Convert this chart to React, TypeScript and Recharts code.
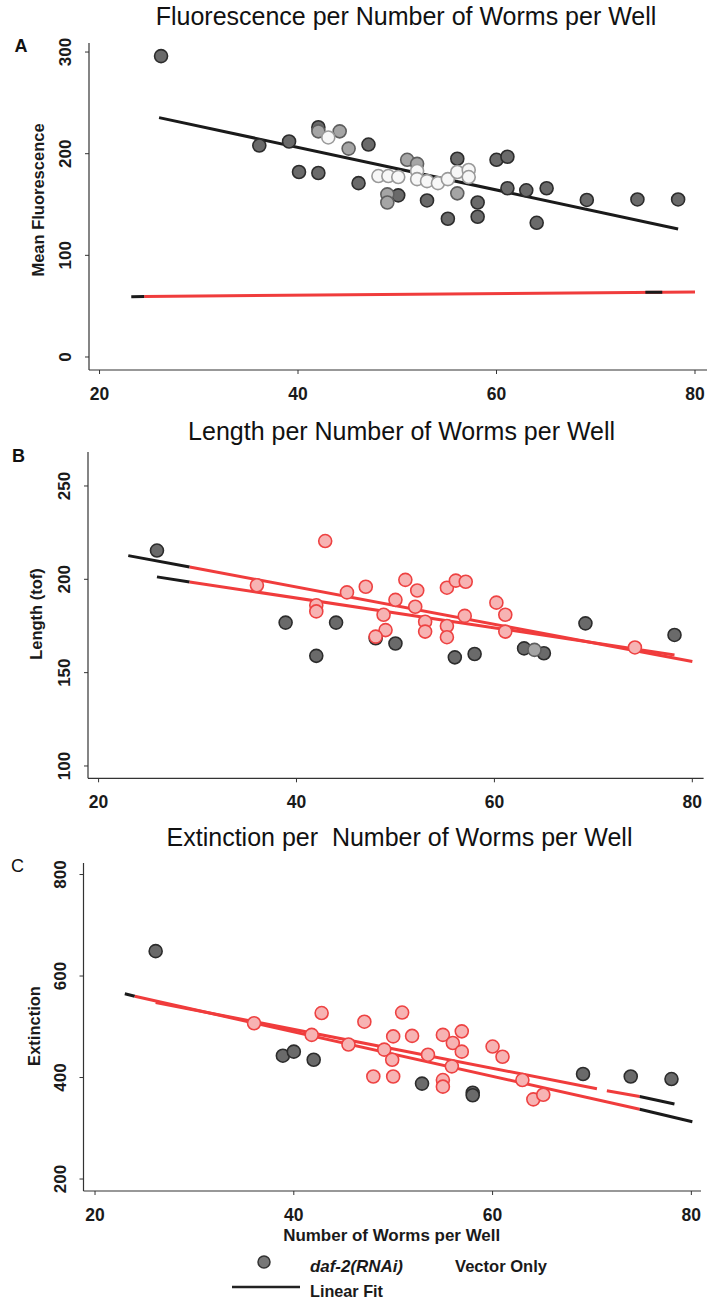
import React from 'react';
import { ComposedChart, Scatter, Line, XAxis, YAxis } from 'recharts';

// ---- shared ----
const FONT = "'Liberation Sans', Arial, Helvetica, sans-serif";
const INK = '#1a1a1a';
const RED = '#f03c3c';
const xTicks = [20, 40, 60, 80];

type Pt = { x: number; y: number };
const pts = (rows: number[][]): Pt[] => rows.map(([x, y]) => ({ x, y }));

// ---- A: mean fluorescence ----
const fluorTicks = [0, 100, 200, 300];
const fluorDark = pts([
  [26.2, 296], [36.1, 208], [39.1, 212], [40.1, 182], [42.05, 226], [42.05, 181],
  [46.1, 171], [47.1, 209], [50.1, 159], [53.0, 154], [55.1, 136], [56.05, 195],
  [58.1, 152], [58.1, 138], [60.0, 194], [61.1, 197], [61.1, 166], [63.0, 164],
  [64.05, 132], [65.05, 166], [69.1, 154.5], [74.2, 155], [78.3, 155],
]);
const fluorMid = pts([
  [42.05, 222], [44.2, 222], [45.1, 205], [49.0, 160], [49.0, 152], [51.0, 194],
  [52.0, 190], [56.05, 161],
]);
const fluorOpen = pts([
  [43.05, 216], [48.1, 178], [49.1, 178], [50.1, 177], [52.0, 183], [52.0, 175],
  [53.0, 173], [54.1, 171], [55.1, 175], [56.05, 182], [57.2, 184], [57.2, 177],
]);
const fluorFitDaf = pts([[26, 235.5], [78.3, 126]]);
const fluorFitVec = pts([[24.5, 59.5], [80, 64]]);
const fluorFitStubA = pts([[23.2, 59.3], [24.5, 59.5]]);
const fluorFitStubB = pts([[75, 63.6], [76.7, 63.7]]);

// ---- B: length (tof) ----
const lenTicks = [100, 150, 200, 250];
const lenDark = pts([
  [25.9, 215.4], [38.9, 176.8], [42.0, 159], [44.0, 176.8], [48.0, 168.4], [50.0, 165.6],
  [56.0, 158.2], [58.0, 160], [63.0, 163], [65.0, 160.4], [69.2, 176.4], [78.2, 170.2],
]);
const lenMid = pts([[64.05, 162.2]]);
const lenVec = pts([
  [42.9, 220.5], [36.0, 196.8], [42.0, 186.1], [42.0, 182.8], [45.1, 193], [47.0, 196],
  [48.8, 181], [49.0, 172.8], [48.0, 169.3], [50.0, 189], [51.0, 199.7], [52.2, 194],
  [52.0, 185.3], [53.0, 177.3], [53.0, 172], [55.2, 195.5], [56.1, 199.3], [57.1, 198.7],
  [57.0, 180.4], [55.2, 175], [55.2, 169], [60.2, 187.5], [61.1, 181], [61.1, 172],
  [74.2, 163.5],
]);
const lenFitUpperStub = pts([[23, 212.7], [29.2, 206.6]]);
const lenFitUpper = pts([[29.2, 206.6], [80, 156]]);
const lenFitLowerStub = pts([[25.9, 201.3], [29.2, 198.6]]);
const lenFitLower = pts([[29.2, 198.6], [78.2, 159.5]]);

// ---- C: extinction ----
const extTicks = [200, 400, 600, 800];
const extDark = pts([
  [26.1, 649], [38.9, 443], [40.0, 451], [42.0, 435], [52.9, 388], [58.0, 370],
  [58.0, 365], [69.1, 407], [73.9, 402], [78.0, 397],
]);
const extVec = pts([
  [36.0, 507], [41.8, 484], [42.8, 527], [47.1, 510], [50.9, 528], [50.0, 481],
  [51.9, 482], [45.5, 465], [49.1, 455], [49.9, 435], [48.0, 402], [50.0, 402],
  [55.0, 484], [56.9, 491], [56.0, 468], [56.9, 451], [55.9, 422], [55.0, 395],
  [55.0, 382], [60.0, 461], [61.0, 441], [63.0, 395], [64.1, 357], [65.1, 366],
  [53.5, 445],
]);
const extFitLowerStub = pts([[23, 565], [24, 560]]);
const extFitLower = pts([[24, 560], [74.8, 337.5]]);
const extFitLowerTail = pts([[74.8, 337.5], [80.1, 313]]);
const extFitUpperA = pts([[26.1, 548], [70.5, 378]]);
const extFitUpperB = pts([[71.5, 374], [74.8, 362.5]]);
const extFitUpperTail = pts([[74.8, 362.5], [78.3, 348]]);

// ---- marker styles ----
const DARK = { fill: '#6a6a6a', stroke: '#2c2c2c' };
const MID = { fill: '#a5a5a5', stroke: '#5e5e5e' };
const OPEN = { fill: '#f7f7f7', stroke: '#9a9a9a' };
const PINK = { fill: '#f7b3b3', stroke: '#ee4242' };

type Group = { data: Pt[]; fill: string; stroke: string };
type Seg = { data: Pt[]; color: string };

const renderXTick = ({ x, y, payload }: any) => (
  <text x={x} y={y + 23.5} textAnchor="middle" fontSize={17.5} fontWeight={700} fill={INK} fontFamily={FONT}>
    {payload.value}
  </text>
);

interface PanelProps {
  top: number;
  height: number;
  plotTop: number;
  plotBottom: number;
  left: number;
  right: number;
  xDomain: [number, number];
  yDomain: [number, number];
  yTicks: number[];
  groups: Group[];
  segs: Seg[];
}

function Panel({ top, height, plotTop, plotBottom, left, right, xDomain, yDomain, yTicks, groups, segs }: PanelProps) {
  const margin = { top: plotTop, right: 709 - right, left: 0, bottom: height - plotBottom - 30 };
  return (
    <div style={{ position: 'absolute', left: 0, top }}>
      <ComposedChart width={709} height={height} margin={margin}>
        <XAxis
          type="number"
          dataKey="x"
          domain={xDomain}
          ticks={xTicks}
          interval={0}
          allowDataOverflow
          height={30}
          tickSize={4}
          axisLine={{ stroke: '#333', strokeWidth: 1.2 }}
          tickLine={{ stroke: '#333' }}
          tick={renderXTick}
        />
        {/* tick labels read bottom-to-top */}
        <YAxis
          type="number"
          dataKey="y"
          domain={yDomain}
          ticks={yTicks}
          interval={0}
          allowDataOverflow
          width={left}
          tickSize={4}
          tickMargin={20}
          angle={-90}
          axisLine={{ stroke: '#333', strokeWidth: 1.2 }}
          tickLine={{ stroke: '#333' }}
          tick={{ fontSize: 17, fontWeight: 700, fill: INK, fontFamily: FONT, textAnchor: 'middle' }}
        />
        {groups.map((g, i) => (
          <Scatter
            key={`g${i}`}
            data={g.data}
            isAnimationActive={false}
            shape={(p: any) => <circle cx={p.cx} cy={p.cy} r={6.5} fill={g.fill} stroke={g.stroke} strokeWidth={1.6} />}
          />
        ))}
        {segs.map((s, i) => (
          <Line
            key={`s${i}`}
            data={s.data}
            dataKey="y"
            type="linear"
            stroke={s.color}
            strokeWidth={3}
            dot={false}
            activeDot={false}
            isAnimationActive={false}
          />
        ))}
      </ComposedChart>
    </div>
  );
}

export default function App() {
  return (
    <div style={{ position: 'absolute', left: 0, top: 0, width: 709, height: 1303, background: '#fff', fontFamily: FONT }}>
      <Panel
        top={0}
        height={410}
        plotTop={43}
        plotBottom={370}
        left={89}
        right={707}
        xDomain={[18.94, 81.21]}
        yDomain={[-12.8, 308.9]}
        yTicks={fluorTicks}
        groups={[
          { data: fluorDark, ...DARK },
          { data: fluorMid, ...MID },
          { data: fluorOpen, ...OPEN },
        ]}
        segs={[
          { data: fluorFitDaf, color: INK },
          { data: fluorFitVec, color: RED },
          { data: fluorFitStubA, color: INK },
          { data: fluorFitStubB, color: INK },
        ]}
      />
      <Panel
        top={410}
        height={410}
        plotTop={42}
        plotBottom={368.3}
        left={88}
        right={703.6}
        xDomain={[18.93, 81.14]}
        yDomain={[93.4, 268.2]}
        yTicks={lenTicks}
        groups={[
          { data: lenDark, ...DARK },
          { data: lenMid, ...MID },
          { data: lenVec, ...PINK },
        ]}
        segs={[
          { data: lenFitUpperStub, color: INK },
          { data: lenFitUpper, color: RED },
          { data: lenFitLowerStub, color: INK },
          { data: lenFitLower, color: RED },
        ]}
      />
      <Panel
        top={820}
        height={483}
        plotTop={43}
        plotBottom={371}
        left={83.5}
        right={701}
        xDomain={[18.84, 80.97]}
        yDomain={[176.4, 822.7]}
        yTicks={extTicks}
        groups={[
          { data: extDark, ...DARK },
          { data: extVec, ...PINK },
        ]}
        segs={[
          { data: extFitLowerStub, color: INK },
          { data: extFitLower, color: RED },
          { data: extFitLowerTail, color: INK },
          { data: extFitUpperA, color: RED },
          { data: extFitUpperB, color: RED },
          { data: extFitUpperTail, color: INK },
        ]}
      />

      {/* titles, panel letters, axis labels and legend */}
      <svg width={709} height={1303} style={{ position: 'absolute', left: 0, top: 0, pointerEvents: 'none' }} fontFamily={FONT}>
        <g fontSize={25} fill="#111" textAnchor="middle">
          <text x={406} y={24.8}>Fluorescence per Number of Worms per Well</text>
          <text x={401.6} y={439.7}>Length per Number of Worms per Well</text>
          <text x={399.5} y={846.3} style={{ whiteSpace: 'pre' }}>{'Extinction per  Number of Worms per Well'}</text>
        </g>
        <g fontSize={18} fill="#111" textAnchor="middle">
          <text x={21} y={51.5} fontWeight={700}>A</text>
          <text x={18.5} y={461.5} fontWeight={700}>B</text>
          <text x={17.5} y={871.5}>C</text>
        </g>
        <g fontSize={16.5} fontWeight={700} fill={INK} textAnchor="middle">
          <text x={44} y={200} transform="rotate(-90 44 200)">Mean Fluorescence</text>
          <text x={41.5} y={614} transform="rotate(-90 41.5 614)">Length (tof)</text>
          <text x={39.5} y={1026} transform="rotate(-90 39.5 1026)">Extinction</text>
        </g>
        <text x={391.7} y={1241} textAnchor="middle" fontSize={17} fontWeight={700} fill={INK} textLength={217} lengthAdjust="spacingAndGlyphs">
          Number of Worms per Well
        </text>
        <circle cx={264} cy={1262} r={6} fill="#777" stroke="#333" strokeWidth={1.5} />
        <text x={310} y={1271.5} fontSize={17} fontWeight={700} fontStyle="italic" fill={INK} textLength={93} lengthAdjust="spacingAndGlyphs">
          daf-2(RNAi)
        </text>
        <text x={455} y={1271.5} fontSize={17} fontWeight={700} fill={INK} textLength={92} lengthAdjust="spacingAndGlyphs">
          Vector Only
        </text>
        <line x1={232} x2={300} y1={1287} y2={1287} stroke="#222" strokeWidth={2.5} />
        <text x={310} y={1296.5} fontSize={17} fontWeight={700} fill={INK} textLength={73} lengthAdjust="spacingAndGlyphs">
          Linear Fit
        </text>
      </svg>
    </div>
  );
}
